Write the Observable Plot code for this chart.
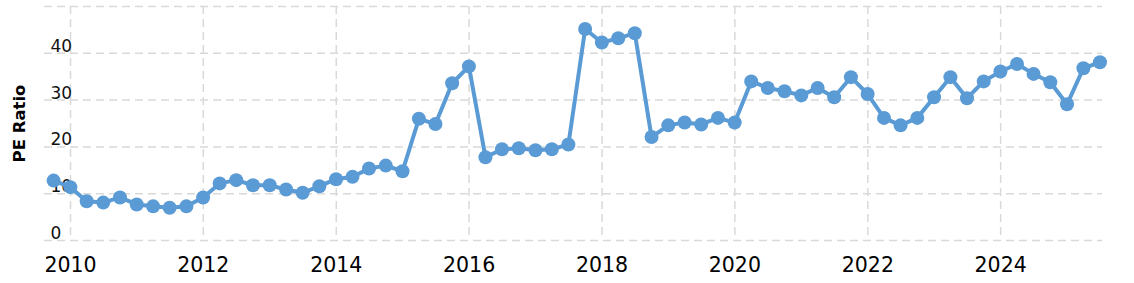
<!DOCTYPE html>
<html>
<head>
<meta charset="utf-8">
<script src="https://cdn.jsdelivr.net/npm/d3@7"></script>
<script src="https://cdn.jsdelivr.net/npm/@observablehq/plot@0.6"></script>
<style>
  html, body { margin: 0; padding: 0; background: #fff; }
  #chart svg { display: block; }
</style>
</head>
<body>
<div id="chart"></div>
<script>
const dates = [
  "2009-09-30","2009-12-31","2010-03-31","2010-06-30","2010-09-30","2010-12-31",
  "2011-03-31","2011-06-30","2011-09-30","2011-12-31","2012-03-31","2012-06-30",
  "2012-09-30","2012-12-31","2013-03-31","2013-06-30","2013-09-30","2013-12-31",
  "2014-03-31","2014-06-30","2014-09-30","2014-12-31","2015-03-31","2015-06-30",
  "2015-09-30","2015-12-31","2016-03-31","2016-06-30","2016-09-30","2016-12-31",
  "2017-03-31","2017-06-30","2017-09-30","2017-12-31","2018-03-31","2018-06-30",
  "2018-09-30","2018-12-31","2019-03-31","2019-06-30","2019-09-30","2019-12-31",
  "2020-03-31","2020-06-30","2020-09-30","2020-12-31","2021-03-31","2021-06-30",
  "2021-09-30","2021-12-31","2022-03-31","2022-06-30","2022-09-30","2022-12-31",
  "2023-03-31","2023-06-30","2023-09-30","2023-12-31","2024-03-31","2024-06-30",
  "2024-09-30","2024-12-31","2025-03-31","2025-06-30"
];
const peRatio = [
  12.8, 11.4, 8.4, 8.1, 9.2, 7.7,
  7.3, 7.0, 7.3, 9.2, 12.2, 12.9,
  11.8, 11.8, 10.9, 10.2, 11.6, 13.1,
  13.6, 15.4, 16.0, 14.8, 26.0, 24.9,
  33.6, 37.2, 17.8, 19.5, 19.7, 19.3,
  19.5, 20.5, 45.2, 42.3, 43.2, 44.3,
  22.1, 24.6, 25.2, 24.8, 26.2, 25.2,
  34.0, 32.6, 31.9, 31.0, 32.6, 30.6,
  34.9, 31.3, 26.2, 24.6, 26.2, 30.6,
  34.9, 30.4, 34.0, 36.1, 37.7, 35.6,
  33.8, 29.1, 36.8, 38.1
];
const yTicks = [0, 10, 20, 30, 40];
const yGrid = [0, 10, 20, 30, 40, 50];
const yLabel = "PE Ratio";

const data = dates.map((d, i) => ({date: new Date(d + "T00:00:00Z"), value: peRatio[i]}));

const color = "#5b9bd5";
const gridStyle = {stroke: "#d9d9d9", strokeOpacity: 1, strokeWidth: 1.5, strokeDasharray: "8,5"};

const chart = Plot.plot({
  width: 1134,
  height: 283,
  marginLeft: 44,
  marginRight: 32,
  marginTop: 6,
  marginBottom: 43,
  style: {fontFamily: "'DejaVu Sans', Verdana, sans-serif", background: "#fff", color: "#000"},
  x: {type: "utc", domain: [new Date("2009-08-11T00:00:00Z"), new Date("2025-07-14T00:00:00Z")]},
  y: {domain: [0, 50]},
  marks: [
    Plot.gridY(yGrid, gridStyle),
    Plot.gridX({ticks: d3.utcYear.every(2), ...gridStyle}),
    Plot.axisX({ticks: d3.utcYear.every(2), tickFormat: "%Y", tickSize: 0, tickPadding: 17, fontSize: 20.5, label: null, fill: "#000"}),
    Plot.axisY(yTicks, {tickSize: 0, tickPadding: 0, textAnchor: "start", dx: 6, dy: -7, fontSize: 17, label: null, fill: "#111"}),
    Plot.text([yLabel], {frameAnchor: "left", textAnchor: "middle", rotate: -90, dx: -25, fontWeight: "bold", fontSize: 16.5, fill: "#000"}),
    Plot.line(data, {x: "date", y: "value", stroke: color, strokeWidth: 4}),
    Plot.dot(data, {x: "date", y: "value", r: 7, fill: color, stroke: "none"})
  ]
});
document.getElementById("chart").appendChild(chart);
</script>
</body>
</html>
